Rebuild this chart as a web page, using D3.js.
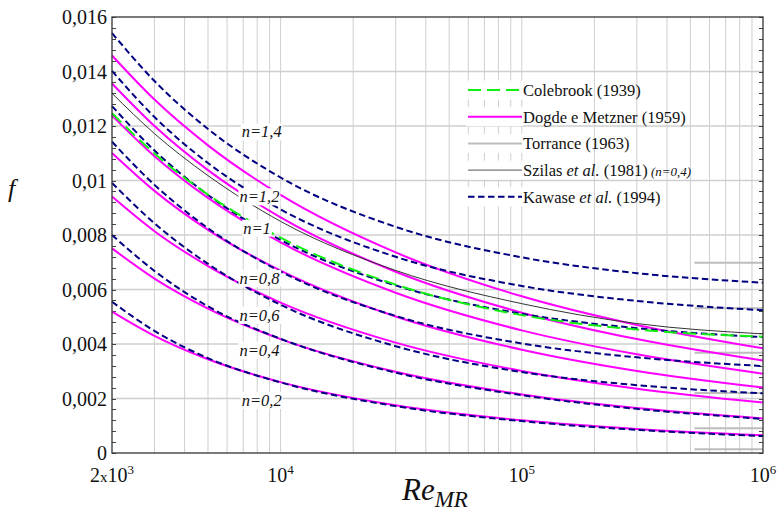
<!DOCTYPE html>
<html>
<head>
<meta charset="utf-8">
<script src="https://cdn.jsdelivr.net/npm/d3@7/dist/d3.min.js"></script>
<style>
  body { margin: 0; background: #fff; }
  svg text { font-family: "Liberation Serif", "DejaVu Serif", serif; fill: #111; }
</style>
</head>
<body>
<div id="chart"></div>
<script>
// friction factor f vs Re_MR, power-law fluids

var re = [2000, 3000, 5000, 10000, 30000, 100000, 300000, 1000000];
var n_labels = ['n=1,4', 'n=1,2', 'n=1', 'n=0,8', 'n=0,6', 'n=0,4', 'n=0,2'];

// Dodge e Metzner (1959), one row per n (1.4 .. 0.2)
var dodge_metzner = [
  [0.01459, 0.01297, 0.01129, 0.00947, 0.00736, 0.00575, 0.00470, 0.00384],
  [0.01356, 0.01200, 0.01038, 0.00865, 0.00665, 0.00515, 0.00418, 0.00339],
  [0.01238, 0.01089, 0.00936, 0.00773, 0.00588, 0.00450, 0.00362, 0.00291],
  [0.01101, 0.00962, 0.00819, 0.00669, 0.00501, 0.00379, 0.00301, 0.00240],
  [0.00941, 0.00814, 0.00686, 0.00552, 0.00405, 0.00301, 0.00236, 0.00185],
  [0.00751, 0.00640, 0.00530, 0.00418, 0.00298, 0.00215, 0.00165, 0.00127],
  [0.00519, 0.00430, 0.00344, 0.00260, 0.00175, 0.00120, 0.00088, 0.00065]
];

// Kawase et al. (1994)
var kawase = [
  [0.01541, 0.01365, 0.01189, 0.01011, 0.00830, 0.00718, 0.00660, 0.00625],
  [0.01402, 0.01233, 0.01064, 0.00894, 0.00720, 0.00613, 0.00558, 0.00524],
  [0.01273, 0.01110, 0.00947, 0.00782, 0.00615, 0.00511, 0.00458, 0.00425],
  [0.01142, 0.00984, 0.00825, 0.00666, 0.00503, 0.00402, 0.00351, 0.00319],
  [0.00991, 0.00843, 0.00694, 0.00544, 0.00392, 0.00297, 0.00249, 0.00219],
  [0.00800, 0.00668, 0.00538, 0.00419, 0.00295, 0.00212, 0.00162, 0.00125],
  [0.00555, 0.00448, 0.00348, 0.00259, 0.00172, 0.00117, 0.00085, 0.00062]
];

// Colebrook (1939)
var colebrook = [0.01247, 0.01099, 0.00948, 0.00790, 0.00618, 0.00506, 0.00453, 0.00427];

// Szilas et al. (1981)
var szilas = [0.01320, 0.01172, 0.01018, 0.00850, 0.00670, 0.00548, 0.00475, 0.00437];

// Torrance (1963), only drawn at high Re
var torrance_re = [520000, 1000000];
var torrance = [0.00698, 0.00531, 0.00368, 0.00220, 0.00091, 0.000136];

// where the n= labels sit (data coords)
var label_re = [6900, 6750, 7000, 6750, 6750, 6750, 6900];
var label_f = [0.01179, 0.00941, 0.00826, 0.00642, 0.00506, 0.00378, 0.00194];

var y_ticks = [0, 0.002, 0.004, 0.006, 0.008, 0.01, 0.012, 0.014, 0.016];
var y_tick_labels = ['0', '0,002', '0,004', '0,006', '0,008', '0,01', '0,012', '0,014', '0,016'];
var x_ticks = [2000, 10000, 100000, 1000000];
var x_tick_exp = ['3', '4', '5', '6'];

var legend_names = ['Colebrook (1939)', 'Dogde e Metzner (1959)', 'Torrance (1963)', 'Szilas et al. (1981)', 'Kawase et al. (1994)'];

var chart_width = 777;
var chart_height = 512;
var p_left = 112, p_right = 763, p_top = 17, p_bottom = 453;

var svg = d3
  .select('#chart')
  .append('svg')
  .attr('width', chart_width)
  .attr('height', chart_height)
  .attr('font-family', '"Liberation Serif", "DejaVu Serif", serif');

var x_scale = d3.scaleLog().domain([2000, 1000000]).range([p_left, p_right]);
var y_scale = d3.scaleLinear().domain([0, 0.016]).range([p_bottom, p_top]);

// grid
var x_grid = [];
[1000, 10000, 100000].forEach(function(dec) {
  for (var k = 1; k <= 9; k++) {
    var v = k * dec;
    if (v > 2000 && v < 1000000) x_grid.push(v);
  }
});

svg.append('g')
  .selectAll('line')
  .data(x_grid)
  .enter()
  .append('line')
  .attr('x1', function(d) { return x_scale(d); })
  .attr('x2', function(d) { return x_scale(d); })
  .attr('y1', p_top)
  .attr('y2', p_bottom)
  .attr('stroke', '#cfcfcf')
  .attr('stroke-width', 1);

svg.append('g')
  .selectAll('line')
  .data(y_ticks.slice(1, -1))
  .enter()
  .append('line')
  .attr('x1', p_left)
  .attr('x2', p_right)
  .attr('y1', function(d) { return y_scale(d); })
  .attr('y2', function(d) { return y_scale(d); })
  .attr('stroke', '#cfcfcf')
  .attr('stroke-width', 1.3);

// minor ticks on both sides
var minor = d3.range(0, 0.0161, 0.0004);
svg.append('g')
  .selectAll('path')
  .data(minor)
  .enter()
  .append('path')
  .attr('d', function(d) {
    var yy = Math.round(y_scale(d)) + 0.5;
    return 'M' + p_left + ',' + yy + 'h4M' + p_right + ',' + yy + 'h-4';
  })
  .attr('stroke', '#444')
  .attr('stroke-width', 1);

var line = d3.line()
  .x(function(d) { return x_scale(d[0]); })
  .y(function(d) { return y_scale(d[1]); })
  .curve(d3.curveMonotoneX);

function pairs(vals) {
  return vals.map(function(v, i) { return [re[i], v]; });
}

var plot = svg.append('g');

// Torrance
plot.selectAll('.torr')
  .data(torrance)
  .enter()
  .append('path')
  .attr('class', 'torr')
  .attr('d', function(d) { return line(torrance_re.map(function(r) { return [r, d]; })); })
  .attr('fill', 'none')
  .attr('stroke', '#bdbdbd')
  .attr('stroke-width', 2);

// Dodge-Metzner
plot.selectAll('.dm')
  .data(dodge_metzner)
  .enter()
  .append('path')
  .attr('class', 'dm')
  .attr('d', function(d) { return line(pairs(d)); })
  .attr('fill', 'none')
  .attr('stroke', '#ff00ff')
  .attr('stroke-width', 2);

// Szilas
plot.append('path')
  .attr('d', line(pairs(szilas)))
  .attr('fill', 'none')
  .attr('stroke', '#333')
  .attr('stroke-width', 1);

// Kawase
plot.selectAll('.kw')
  .data(kawase)
  .enter()
  .append('path')
  .attr('class', 'kw')
  .attr('d', function(d) { return line(pairs(d)); })
  .attr('fill', 'none')
  .attr('stroke', '#000080')
  .attr('stroke-width', 2)
  .attr('stroke-dasharray', '6.5,3.5');

// Colebrook
plot.append('path')
  .attr('d', line(pairs(colebrook)))
  .attr('fill', 'none')
  .attr('stroke', '#11ee11')
  .attr('stroke-width', 2)
  .attr('stroke-dasharray', '13,6');

// n= labels with white boxes
var labels = svg.append('g')
  .selectAll('g')
  .data(n_labels)
  .enter()
  .append('g');

labels.append('text')
  .attr('x', function(d, i) { return x_scale(label_re[i]); })
  .attr('y', function(d, i) { return y_scale(label_f[i]); })
  .attr('dy', '0.35em')
  .attr('font-size', 16.5)
  .attr('font-style', 'italic')
  .text(function(d) { return d; });

labels.each(function() {
  var g = d3.select(this);
  var b = g.select('text').node().getBBox();
  g.insert('rect', 'text')
    .attr('x', b.x - 1)
    .attr('y', b.y + 1)
    .attr('width', b.width + 2)
    .attr('height', b.height - 2)
    .attr('fill', '#fff');
});

// frame
svg.append('rect')
  .attr('x', p_left)
  .attr('y', p_top)
  .attr('width', p_right - p_left)
  .attr('height', p_bottom - p_top)
  .attr('fill', 'none')
  .attr('stroke', '#333')
  .attr('stroke-width', 1.3);

// y tick labels
svg.append('g')
  .selectAll('text')
  .data(y_ticks)
  .enter()
  .append('text')
  .attr('x', 107)
  .attr('y', function(d) { return y_scale(d) + 7; })
  .attr('text-anchor', 'end')
  .attr('font-size', 20)
  .text(function(d, i) { return y_tick_labels[i]; });

// x tick labels
var xt = svg.append('g')
  .selectAll('text')
  .data(x_ticks)
  .enter()
  .append('text')
  .attr('x', function(d) { return x_scale(d); })
  .attr('y', 482)
  .attr('text-anchor', 'middle')
  .attr('font-size', 20);
xt.each(function(d, i) {
  var t = d3.select(this);
  if (d === 2000) {
    t.append('tspan').text('2');
    t.append('tspan').attr('font-size', 15).text('x');
  }
  t.append('tspan').text('10');
  t.append('tspan').attr('font-size', 13).attr('dy', -8).text(x_tick_exp[i]);
});

// axis titles
svg.append('text')
  .attr('x', 8)
  .attr('y', 197)
  .attr('font-size', 26)
  .attr('font-style', 'italic')
  .text('f');

var xtitle = svg.append('text')
  .attr('x', 402)
  .attr('y', 500)
  .attr('font-size', 31)
  .attr('font-style', 'italic');
xtitle.append('tspan').text('Re');
xtitle.append('tspan').attr('font-size', 23).attr('dy', 7).text('MR');

// legend
var leg_y0 = 90, leg_dy = 26.7;
var leg = svg.append('g')
  .selectAll('g')
  .data(legend_names)
  .enter()
  .append('g')
  .attr('transform', function(d, i) { return 'translate(0,' + (leg_y0 + i * leg_dy) + ')'; });

leg.append('rect')
  .attr('x', 466)
  .attr('y', -9.5)
  .attr('width', 57)
  .attr('height', 19)
  .attr('fill', '#fff');

var leg_styles = [
  { c: '#11ee11', w: 2, dash: '13,6' },
  { c: '#ff00ff', w: 2, dash: null },
  { c: '#bdbdbd', w: 2, dash: null },
  { c: '#555', w: 1, dash: null },
  { c: '#000080', w: 2, dash: '6.5,3.5' }
];

leg.append('line')
  .attr('x1', 468)
  .attr('x2', 522)
  .attr('y1', 0)
  .attr('y2', 0)
  .attr('stroke', function(d, i) { return leg_styles[i].c; })
  .attr('stroke-width', function(d, i) { return leg_styles[i].w; })
  .attr('stroke-dasharray', function(d, i) { return leg_styles[i].dash; });

leg.append('text')
  .attr('x', 523)
  .attr('y', 6)
  .attr('font-size', 16.5)
  .each(function(d) {
    var t = d3.select(this);
    var m = d.match(/^(.*?)et al\.(.*)$/);
    if (m) {
      t.append('tspan').text(m[1]);
      t.append('tspan').attr('font-style', 'italic').text('et al.');
      t.append('tspan').text(m[2]);
      if (d.indexOf('Szilas') === 0) {
        t.append('tspan').attr('font-style', 'italic').attr('font-size', 13).text(' (n=0,4)');
      }
    } else {
      t.text(d);
    }
  });
</script>
</body>
</html>
